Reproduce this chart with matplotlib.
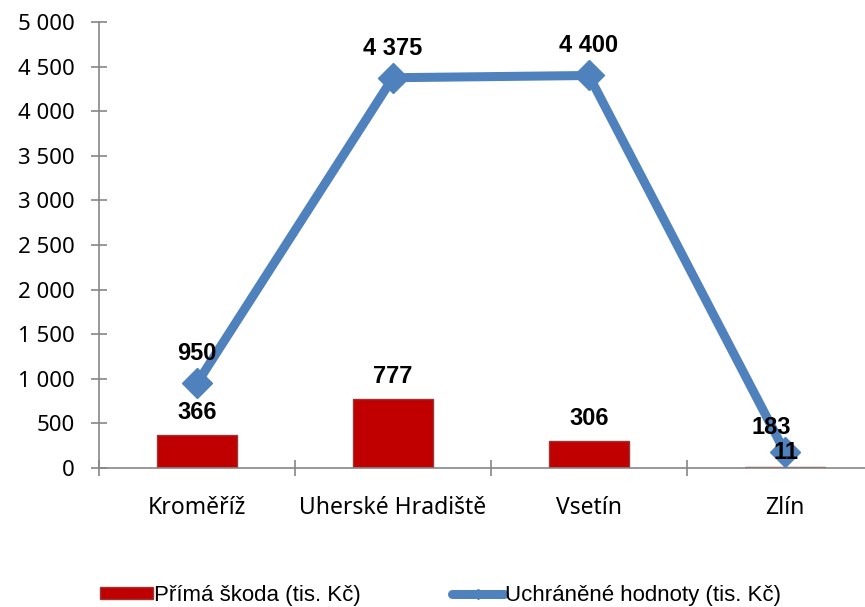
import matplotlib.pyplot as plt
from matplotlib.lines import Line2D
from matplotlib.patches import Patch
import numpy as np

# data
okresy = ["Kroměříž", "Uherské Hradiště", "Vsetín", "Zlín"]
prima_skoda = [366, 777, 306, 11]
uchranene = [950, 4375, 4400, 183]
y_ticks = list(range(0, 5001, 500))

bar_color = "#C00000"
bar_edge = "#953735"
line_color = "#4F81BD"
axis_color = "#868686"


def fmt(v):
    return f"{v:,}".replace(",", " ")


fig = plt.figure(figsize=(8.65, 6.07), dpi=100)
# axes reaches past the right edge like the original (cropped)
ax = fig.add_axes([0.1145, 0.229, 0.906, 0.7348])

x = np.arange(len(okresy))
ax.bar(x, prima_skoda, width=0.41, color=bar_color, edgecolor=bar_edge,
       linewidth=1, zorder=2)
ax.plot(x, uchranene, color=line_color, linewidth=6.5, marker="D",
        markersize=15, zorder=3)

# data labels
lab_font = dict(family="Liberation Sans", fontsize=17, fontweight="bold",
                ha="center", va="bottom")
for i, v in enumerate(prima_skoda):
    off = (1, 2) if i == 3 else (0, 8)
    ax.annotate(fmt(v), (x[i], v), xytext=off,
                textcoords="offset points", **lab_font)
for i, v in enumerate(uchranene):
    off = (-10, 9) if i == 3 else (0, 13)
    ax.annotate(fmt(v), (x[i], v), xytext=off,
                textcoords="offset points", **lab_font)

ax.set_xlim(-0.5, len(okresy) - 0.5)
ax.set_ylim(0, 5000)
ax.set_yticks(y_ticks)
ax.set_yticklabels([fmt(v) for v in y_ticks], family="Noto Sans", fontsize=16)

ax.set_xticks(np.arange(-0.5, len(okresy)), labels=[""] * (len(okresy) + 1))
ax.set_xticks(x, labels=okresy, minor=True)
for lbl in ax.get_xticklabels(minor=True):
    lbl.set_family("Noto Sans")
    lbl.set_fontsize(16.5)

ax.tick_params(axis="both", which="major", direction="inout", length=11,
               width=1.2, color=axis_color)
ax.tick_params(axis="x", which="minor", length=0, pad=20)
ax.tick_params(axis="y", pad=12)

for s in ["top", "right"]:
    ax.spines[s].set_visible(False)
for s in ["left", "bottom"]:
    ax.spines[s].set_color(axis_color)
    ax.spines[s].set_linewidth(1.2)

handles = [
    Patch(facecolor=bar_color, edgecolor=bar_edge, linewidth=1),
    Line2D([], [], color=line_color, linewidth=6.5, marker="D", markersize=5,
           solid_capstyle="round"),
]
labels = ["Přímá škoda (tis. Kč)", "Uchráněné hodnoty (tis. Kč)"]
fig.legend(handles, labels, loc="center left", bbox_to_anchor=(0.116, 0.019),
           ncol=2, frameon=False, prop={"family": "Liberation Sans", "size": 16},
           handlelength=2.35, handleheight=0.5, handletextpad=0.05,
           columnspacing=4.1, borderaxespad=0, borderpad=0)

fig.savefig("out.png", dpi=100)
